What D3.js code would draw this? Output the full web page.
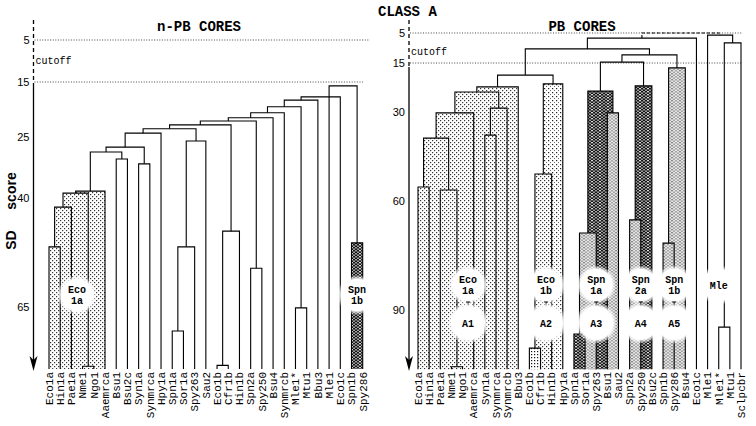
<!DOCTYPE html>
<html><head><meta charset="utf-8">
<script src="https://cdn.jsdelivr.net/npm/d3@7"></script>
<style>body{margin:0;background:#fff}</style>
</head><body>
<script>
// ---------------- DATA ----------------
const leftLeaves = ["Eco1a","Hin1a","Pae1a","Nme1","Ngo1","Aaemrca","Bsu1","Bsu2c","Syn1a","Synmrca","Hpy1a","Spn1a","Sor1a","Spy263","Sau2","Eco1b","Cfr1b","Hin1b","Spn2a","Spy250","Bsu4","Synmrcb","Mle1*","Mtu1","Bbu3","Mle1","Eco1c","Spn1b","Spy286"];
// merges: children are leaf indices (numbers) or earlier merges ("m#")
const leftMergeA = [0,"m0",3,"m1","m3",6,"m4",8,"m6","m8",11,"m10","m11","m9",15,"m14","m13",18,"m16","m18","m19",22,"m20","m22","m23",27,25];
const leftMergeB = [1,2,4,"m2",5,7,"m5",9,"m7",10,12,13,14,"m12",16,17,"m15",19,"m17",20,21,23,"m21",24,26,28,"m25"];
const leftMergeSD = [51.2,42.1,78.6,38.8,38.3,30.4,28.7,31.6,27.5,24.3,70.5,51.2,26.0,23.5,78.4,47.6,22.8,56.1,22.1,21.5,20.6,65.2,19.5,18.3,17.7,50.3,15.7];
const leftMergeFill = ["dots","dots","dots","dots","dots","","","","","","","","","","","","","","","","","","","","","zigDark",""];
const leftTicks = [5,15,25,40,65];
const leftBaseSD = 79.2;
const leftClusterNames = ["Eco 1a","Spn 1b"];
const leftClusterCodes = ["",""];
const leftClusterFirst = [0,27];
const leftClusterLast = [5,28];

const rightLeaves = ["Eco1a","Hin1a","Pae1a","Nme1","Ngo1","Aaemrca","Syn1a","Synmrca","Synmrcb","Bbu3","Eco1b","Cfr1b","Hin1b","Hpy1a","Spn1a","Sor1a","Spy263","Bsu1","Sau2","Spn2a","Spy250","Bsu2c","Spn1b","Spy286","Bsu4","Eco1c","Mle1","Mle1*","Mtu1","Sclpcbr"];
const rightMergeA = [0,3,2,"m0","m3",6,"m5","m4","m7",10,"m9","m10","m8",14,"m13",17,"m14",19,"m17","m16",22,"m20","m19","m12","m23",27,"m25",26];
const rightMergeB = [1,4,"m1","m2",5,7,8,"m6",9,11,12,13,"m11",15,16,18,"m15",20,21,"m18",23,24,"m21","m22",25,28,29,"m26"];
const rightMergeSD = [55.3,105.6,56.3,38.8,30.3,37.8,28.8,23.9,22.3,100.5,50.9,21.4,18.7,96.6,68.8,30.3,23.6,65.2,22.0,14.7,71.6,16.5,12.3,10.3,6.7,94.7,8.3,5.7];
const rightMergeFill = ["dots","dots","dots","dots","dots","dots","dots","dots","dots","dots2","dots","dotsSparse","","zigDark","zigGray","zigGray","zigDark","zigGray","zigDark","","zigGray","zigGray","","","","","",""];
const rightDashedJoin = ["m24","m27",5.0];
const rightTicks = [5,15,30,60,90];
const rightBaseSD = 106.3;
const rightClusterNames = ["Eco 1a","Eco 1b","Spn 1a","Spn 2a","Spn 1b","Mle"];
const rightClusterCodes = ["A1","A2","A3","A4","A5",""];
const rightClusterFirst = [0,10,14,19,22,26];
const rightClusterLast = [9,13,18,21,24,28];

const cutoffSD = [5,15];

// ---------------- DRAW ----------------
const W = 756, H = 426;
const MONO = "'Liberation Mono','DejaVu Sans Mono',monospace";
const SANS = "'Liberation Sans',Arial,sans-serif";
const svg = d3.select("body").append("svg").attr("width", W).attr("height", H)
  .style("background", "#fff");
const defs = svg.append("defs");

// patterns
const pDots = defs.append("pattern").attr("id","dots").attr("width",4).attr("height",4).attr("patternUnits","userSpaceOnUse");
pDots.append("rect").attr("width",4).attr("height",4).attr("fill","#fff");
pDots.append("rect").attr("x",0).attr("y",0).attr("width",1.2).attr("height",1.2).attr("fill","#333");
pDots.append("rect").attr("x",2).attr("y",2).attr("width",1.2).attr("height",1.2).attr("fill","#333");
const pDots2 = defs.append("pattern").attr("id","dots2").attr("width",3).attr("height",3).attr("patternUnits","userSpaceOnUse");
pDots2.append("rect").attr("width",3).attr("height",3).attr("fill","#fff");
pDots2.append("rect").attr("width",1.2).attr("height",1.2).attr("fill","#111");
const pDotsS = defs.append("pattern").attr("id","dotsSparse").attr("width",4).attr("height",4).attr("patternUnits","userSpaceOnUse");
pDotsS.append("rect").attr("width",4).attr("height",4).attr("fill","#fff");
pDotsS.append("rect").attr("width",1.2).attr("height",1.2).attr("fill","#222");
pDotsS.append("rect").attr("x",2).attr("y",2).attr("width",1).attr("height",1).attr("fill","#666");
function zig(id, bg, fg, sw) {
  const p = defs.append("pattern").attr("id",id).attr("width",8).attr("height",6).attr("patternUnits","userSpaceOnUse");
  p.append("rect").attr("width",8).attr("height",6).attr("fill",bg);
  p.append("path").attr("d","M0,4 L2,1 L4,4 L6,1 L8,4 M0,7 L2,4 L4,7 L6,4 L8,7 M0,1 L2,-2 L4,1 L6,-2 L8,1")
    .attr("fill","none").attr("stroke",fg).attr("stroke-width",sw);
}
zig("zigDark","#fff","#000",1.1);
zig("zigGray","#777","#eee",1.1);

const grad = defs.append("radialGradient").attr("id","soft");
grad.append("stop").attr("offset","0%").attr("stop-color","#fff").attr("stop-opacity",1);
grad.append("stop").attr("offset","78%").attr("stop-color","#fff").attr("stop-opacity",1);
grad.append("stop").attr("offset","100%").attr("stop-color","#fff").attr("stop-opacity",0);

function panel(cfg) {
  const g = svg.append("g");
  const x = d3.scaleLinear().domain([0, cfg.leaves.length - 1]).range(cfg.xRange);
  const y = d3.scaleLinear().domain(cfg.ticks).range(cfg.yRange);

  // layout
  const node = {};
  cfg.leaves.forEach((n, i) => node[i] = {x: x(i), sd: cfg.base});
  const merges = cfg.A.map((a, k) => {
    const na = node[a], nb = node[cfg.B[k]];
    const m = {a: na, b: nb, sd: cfg.SD[k], x: (na.x + nb.x) / 2, fill: cfg.fill[k]};
    node["m" + k] = m;
    return m;
  });

  // cutoff lines
  g.selectAll(".cut").data(cutoffSD).join("line")
    .attr("x1", (d,i) => cfg.axisX + 1).attr("x2", (d,i) => cfg.cutEnd[i])
    .attr("y1", d => y(d)).attr("y2", d => y(d))
    .attr("stroke", "#333").attr("stroke-width", 0.9).attr("stroke-dasharray", "1,1.6");

  // fills
  const fills = merges.filter(m => m.fill).sort((p, q) => p.sd - q.sd);
  g.selectAll(".fill").data(fills).join("rect")
    .attr("x", d => d.a.x).attr("width", d => d.b.x - d.a.x)
    .attr("y", d => y(d.sd)).attr("height", d => y(cfg.base) - y(d.sd))
    .attr("fill", d => `url(#${d.fill})`);

  // merge lines
  g.selectAll(".mrg").data(merges).join("path")
    .attr("d", d => `M${d.a.x},${y(d.a.sd)}V${y(d.sd)}H${d.b.x}V${y(d.b.sd)}`)
    .attr("fill", "none").attr("stroke", "#000").attr("stroke-width", 1.1);

  if (cfg.dashed) {
    const a = node[cfg.dashed[0]], b = node[cfg.dashed[1]], h = cfg.dashed[2];
    g.append("path").attr("d", `M${a.x},${y(a.sd)}V${y(h)}H${b.x}V${y(b.sd)}`)
      .attr("fill","none").attr("stroke","#000").attr("stroke-width",1.1).attr("stroke-dasharray","3,2");
  }

  // cluster circles
  const cl = cfg.cNames.map((n, i) => ({name: n, code: cfg.cCodes[i],
    cx: (x(cfg.cFirst[i]) + x(cfg.cLast[i])) / 2}));
  cl.forEach(c => {
    g.append("circle").attr("cx", c.cx).attr("cy", cfg.circY).attr("r", 20).attr("fill", "url(#soft)");
    const parts = c.name.split(" ");
    const t = g.append("text").attr("x", c.cx).attr("text-anchor", "middle")
      .attr("font-family", MONO).attr("font-weight", "bold").attr("font-size", 10);
    if (parts.length === 2) {
      t.append("tspan").attr("x", c.cx).attr("y", cfg.circY - 2).text(parts[0]);
      t.append("tspan").attr("x", c.cx).attr("y", cfg.circY + 9).text(parts[1]);
    } else {
      t.attr("y", cfg.circY + 4).text(c.name);
    }
    if (c.code) {
      g.append("path").attr("d", `M${c.cx-2},${cfg.circY+17}H${c.cx+2}M${c.cx},${cfg.circY+17}V${cfg.circY+23}M${c.cx-2},${cfg.circY+23}H${c.cx+2}`)
        .attr("stroke","#000").attr("stroke-width",1).attr("fill","none");
      g.append("circle").attr("cx", c.cx).attr("cy", cfg.codeY).attr("r", 21).attr("fill", "url(#soft)");
      g.append("text").attr("x", c.cx).attr("y", cfg.codeY + 4).attr("text-anchor","middle")
        .attr("font-family", MONO).attr("font-weight","bold").attr("font-size",10).text(c.code);
    }
  });

  // leaf labels
  g.selectAll(".lbl").data(cfg.leaves).join("text")
    .attr("transform", (d, i) => `translate(${x(i)+3.8},372) rotate(-90)`)
    .attr("text-anchor", "end").attr("font-family", MONO).attr("font-size", 11)
    .text(d => d);

  // axis
  const ax = cfg.axisX;
  g.append("line").attr("x1", ax).attr("x2", ax).attr("y1", 20).attr("y2", cfg.dashEnd)
    .attr("stroke", "#000").attr("stroke-width", 1.3).attr("stroke-dasharray", "4,3");
  g.append("line").attr("x1", ax).attr("x2", ax).attr("y1", cfg.dashEnd).attr("y2", 362)
    .attr("stroke", "#000").attr("stroke-width", 1.3);
  g.append("path").attr("d", `M${ax-4},356L${ax},371L${ax+4},356L${ax},360Z`).attr("fill", "#000");
  g.selectAll(".tk").data(cfg.ticks).join("text")
    .attr("x", ax - 4).attr("y", d => y(d) + 4).attr("text-anchor", "end")
    .attr("font-family", SANS).attr("font-size", 11).text(d => d);
  g.append("text").attr("x", ax + 2).attr("y", cfg.cutoffY).attr("font-family", MONO)
    .attr("font-size", 10).text("cutoff");
  g.append("text").attr("x", cfg.titleX).attr("y", 31).attr("text-anchor", "middle")
    .attr("font-family", MONO).attr("font-weight", "bold").attr("font-size", 14).text(cfg.title);
}

panel({leaves: leftLeaves, A: leftMergeA, B: leftMergeB, SD: leftMergeSD, fill: leftMergeFill,
  ticks: leftTicks, base: leftBaseSD, xRange: [49, 362.7], yRange: [40, 82, 137, 198, 307],
  axisX: 33.5, dashEnd: 84, cutEnd: [370, 363], cutoffY: 64, title: "n-PB CORES", titleX: 199,
  cNames: leftClusterNames, cCodes: leftClusterCodes, cFirst: leftClusterFirst, cLast: leftClusterLast,
  circY: 295, codeY: 330});

panel({leaves: rightLeaves, A: rightMergeA, B: rightMergeB, SD: rightMergeSD, fill: rightMergeFill,
  ticks: rightTicks, base: rightBaseSD, xRange: [418, 741], yRange: [33, 63, 112, 201, 310],
  axisX: 409, dashEnd: 67, cutEnd: [742, 742], cutoffY: 55, title: "PB CORES", titleX: 582,
  dashed: rightDashedJoin,
  cNames: rightClusterNames, cCodes: rightClusterCodes, cFirst: rightClusterFirst, cLast: rightClusterLast,
  circY: 285, codeY: 323});

svg.append("text").attr("x", 378).attr("y", 16).attr("font-family", MONO).attr("font-weight", "bold")
  .attr("font-size", 14).text("CLASS A");
svg.append("text").attr("transform", "translate(11,191) rotate(-90)").attr("text-anchor", "middle")
  .attr("dominant-baseline", "central").attr("font-family", SANS).attr("font-weight", "bold")
  .attr("font-size", 14).text("score");
svg.append("text").attr("transform", "translate(11,240) rotate(-90)").attr("text-anchor", "middle")
  .attr("dominant-baseline", "central").attr("font-family", SANS).attr("font-weight", "bold")
  .attr("font-size", 14).text("SD");
</script>
</body></html>
